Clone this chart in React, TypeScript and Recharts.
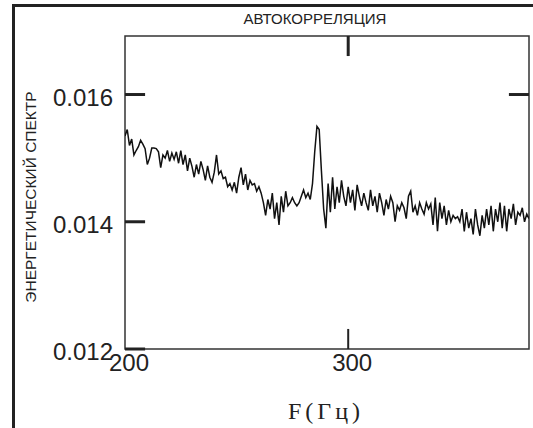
import { LineChart, Line, XAxis, YAxis, ReferenceLine, ReferenceArea } from "recharts";

// spectrum sampled every 1 Hz starting at 200 Hz
const FREQ_START = 200;
const SPECTRUM = [
  0.01535, 0.01545, 0.0152, 0.0153, 0.01505, 0.01512, 0.01518, 0.01528, 0.01522, 0.01515,
  0.0149, 0.015, 0.01516, 0.01516, 0.01515, 0.0151, 0.01485, 0.01505, 0.015, 0.01512,
  0.01495, 0.01508, 0.01498, 0.0151, 0.01492, 0.01512, 0.0149, 0.01505, 0.0148, 0.015,
  0.01487, 0.0147, 0.0149, 0.01475, 0.01495, 0.01482, 0.01465, 0.01488, 0.0147, 0.01462,
  0.01478, 0.01505, 0.01475, 0.0148, 0.01468, 0.0147, 0.01455, 0.0146, 0.0145, 0.01462,
  0.01445, 0.0147, 0.01485, 0.01458, 0.01475, 0.0145, 0.01465, 0.01458, 0.0146, 0.01448,
  0.01455, 0.01445, 0.0143, 0.0141, 0.01435, 0.0142, 0.01445, 0.01405, 0.0143, 0.01395,
  0.0144, 0.01415, 0.01448, 0.01425, 0.0143, 0.01438, 0.0143, 0.01425, 0.0143, 0.0144,
  0.0145, 0.01438, 0.01445, 0.01435, 0.0146, 0.0151, 0.0155, 0.01545, 0.0148, 0.0142,
  0.0139, 0.0146, 0.01415, 0.0147, 0.0142, 0.01455, 0.0143, 0.01465, 0.0144, 0.01425,
  0.01455, 0.0143, 0.0145, 0.01418, 0.01458, 0.0144, 0.01425, 0.01445, 0.0143, 0.01418,
  0.0145, 0.01425, 0.0144, 0.01415, 0.01445, 0.0143, 0.0141, 0.01435, 0.0142, 0.0144,
  0.0143, 0.014, 0.01425, 0.01418, 0.0143, 0.01422, 0.01405, 0.0144, 0.01448, 0.01415,
  0.01425, 0.0141, 0.0143, 0.0142, 0.01412, 0.0143, 0.0142, 0.01428, 0.01395, 0.01438,
  0.01385, 0.0143, 0.01405, 0.01425, 0.01395, 0.01418, 0.014, 0.0141, 0.01405, 0.01408,
  0.014, 0.0142, 0.01385, 0.01415, 0.0139, 0.01405, 0.0138, 0.0142, 0.01395, 0.01378,
  0.0141, 0.0139, 0.0142, 0.01395, 0.01425, 0.01385, 0.0142, 0.014, 0.0143, 0.0139,
  0.01425, 0.01385, 0.0142, 0.01405, 0.01428, 0.01395, 0.01415, 0.0141, 0.01422, 0.014,
  0.01412, 0.01405,
];

const X_TICKS = [200, 300];
const Y_TICKS = [0.012, 0.014, 0.016];
const X_DOMAIN = [200, 381];
const Y_DOMAIN = [0.012, 0.01692];

const DATA = SPECTRUM.map((s, i) => ({ f: FREQ_START + i, s }));

const INK = "#222";
const TICK_DX = 9; // inward tick length, Hz
const TICK_DY = 0.000315; // inward tick length, spectrum units

const YTick = ({ x, y, payload }: any) => (
  <text x={x} y={y} dy={11} textAnchor="end" fontFamily="'Liberation Sans', Arial" fontSize={24} fill={INK}>
    {Number(payload.value).toFixed(3)}
  </text>
);

const XTick = ({ x, y, payload }: any) => (
  <text x={x + 4} y={y} dy={22} textAnchor="middle" fontFamily="'Liberation Sans', Arial" fontSize={24} fill={INK}>
    {payload.value}
  </text>
);

export default function App() {
  return (
    <div style={{ position: "absolute", left: 0, top: 0, width: 533, height: 428, background: "#fff", overflow: "hidden" }}>
      <div
        style={{
          position: "absolute",
          left: 12,
          top: 4,
          width: 540,
          height: 440,
          borderLeft: `3px solid ${INK}`,
          borderTop: `3px solid ${INK}`,
        }}
      />
      <LineChart
        width={533}
        height={428}
        data={DATA}
        margin={{ top: 36, right: 4, left: 0, bottom: 0 }}
        style={{ position: "absolute", left: 0, top: 0 }}
      >
        <XAxis
          dataKey="f"
          type="number"
          domain={X_DOMAIN}
          ticks={X_TICKS}
          allowDataOverflow
          axisLine={false}
          tickLine={false}
          tickSize={0}
          tickMargin={0}
          tick={<XTick />}
          height={79}
        />
        <YAxis
          type="number"
          domain={Y_DOMAIN}
          ticks={Y_TICKS}
          allowDataOverflow
          axisLine={false}
          tickLine={false}
          tickSize={0}
          tickMargin={12}
          tick={<YTick />}
          width={125}
        />
        <ReferenceArea
          x1={X_DOMAIN[0]}
          x2={X_DOMAIN[1]}
          y1={Y_DOMAIN[0]}
          y2={Y_DOMAIN[1]}
          fill="#fff"
          fillOpacity={0}
          stroke="#333"
          strokeWidth={1.5}
        />
        {Y_TICKS.map((t) => (
          <ReferenceLine
            key={`yl${t}`}
            segment={[{ x: X_DOMAIN[0], y: t }, { x: X_DOMAIN[0] + TICK_DX, y: t }]}
            stroke={INK}
            strokeWidth={3}
          />
        ))}
        <ReferenceLine
          segment={[{ x: X_DOMAIN[1] - TICK_DX, y: 0.016 }, { x: X_DOMAIN[1], y: 0.016 }]}
          stroke={INK}
          strokeWidth={3}
        />
        <ReferenceLine
          segment={[{ x: 300, y: Y_DOMAIN[0] }, { x: 300, y: Y_DOMAIN[0] + TICK_DY }]}
          stroke={INK}
          strokeWidth={2}
        />
        <ReferenceLine
          segment={[{ x: 300, y: Y_DOMAIN[1] - TICK_DY }, { x: 300, y: Y_DOMAIN[1] }]}
          stroke={INK}
          strokeWidth={3}
        />
        <Line
          type="linear"
          dataKey="s"
          stroke="#111"
          strokeWidth={1.5}
          dot={false}
          isAnimationActive={false}
        />
      </LineChart>
      <div
        style={{
          position: "absolute",
          left: 215,
          top: 11,
          width: 200,
          textAlign: "center",
          fontFamily: "'Liberation Sans', Arial",
          fontSize: 15,
          lineHeight: "16px",
          color: INK,
        }}
      >
        АВТОКОРРЕЛЯЦИЯ
      </div>
      <div
        style={{
          position: "absolute",
          left: 31 - 130,
          top: 197 - 8,
          width: 260,
          height: 16,
          lineHeight: "16px",
          textAlign: "center",
          transform: "rotate(-90deg)",
          fontFamily: "'Liberation Sans', Arial",
          fontSize: 15.5,
          color: INK,
          whiteSpace: "nowrap",
        }}
      >
        ЭНЕРГЕТИЧЕСКИЙ СПЕКТР
      </div>
      <div
        style={{
          position: "absolute",
          left: 226,
          top: 398,
          width: 200,
          textAlign: "center",
          fontFamily: "'Liberation Serif', 'Times New Roman', serif",
          fontSize: 24,
          lineHeight: "26px",
          letterSpacing: 4,
          color: INK,
        }}
      >
        F(Гц)
      </div>
    </div>
  );
}
